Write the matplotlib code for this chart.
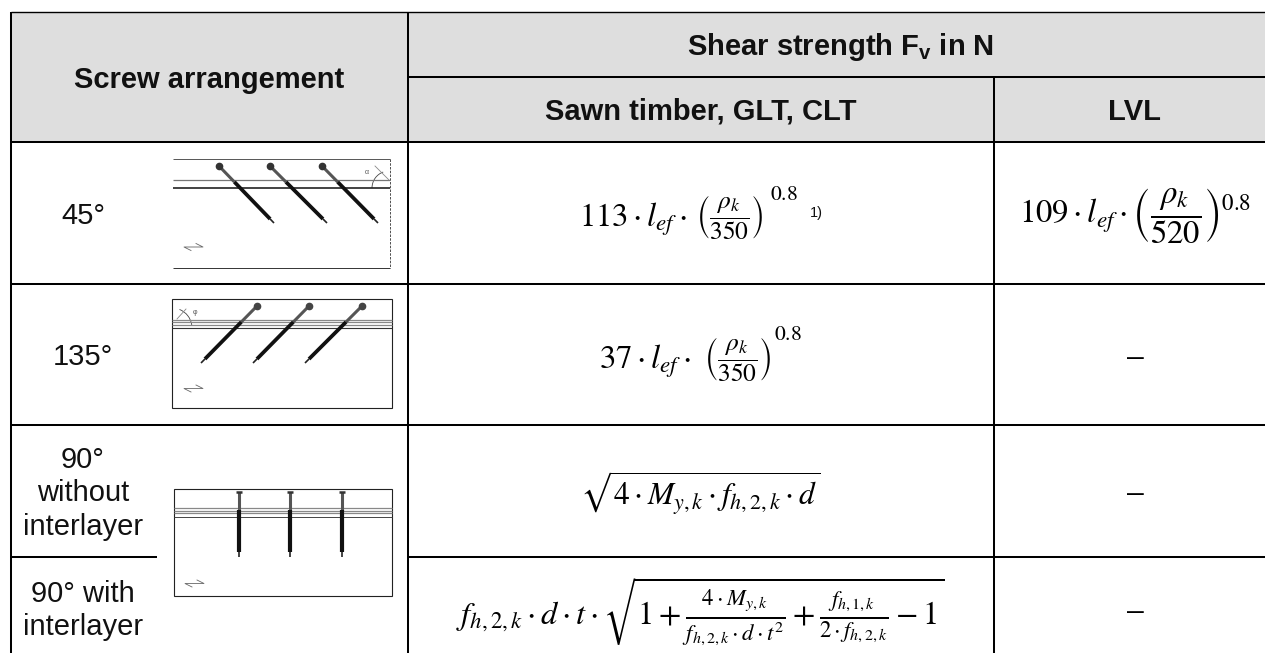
import matplotlib
matplotlib.use("Agg")
import matplotlib.pyplot as plt
from matplotlib.patches import Arc, Rectangle

plt.rcParams["font.family"] = ["Liberation Sans", "DejaVu Sans"]
plt.rcParams["mathtext.fontset"] = "custom"
plt.rcParams["mathtext.rm"] = "Liberation Sans:bold"
plt.rcParams["mathtext.bf"] = "Liberation Sans:bold"

# table text
header_left = "Screw arrangement"
header_top = r"Shear strength F$_{\mathbf{v}}$ in N"
header_sub = ["Sawn timber, GLT, CLT", "LVL"]
row_labels = ["45°", "135°", "90°", "without", "interlayer", "90° with", "interlayer"]
row_label_base = [224, 365, 468, 501, 535, 602, 635]

# 45 and 135 rows are set in three pieces, their fraction is smaller than in the LVL cell
prefixes = [r"$113\cdot l_{ef}\cdot$", r"$37\cdot l_{ef}\cdot$"]
prefix_xy = [(579, 227), (599, 368)]
fractions = [r"$\left(\dfrac{\rho_k}{350}\right)$", r"$\left(\dfrac{\rho_k}{350}\right)$"]
fraction_xy = [(696, 218), (704, 360)]
exponent = r"$0.8$"
exponent_xy = [(770, 194), (774, 335)]

formula_root = r"$\sqrt{4\cdot M_{y,k}\cdot f_{h,2,k}\cdot d}$"
formula_inter = (r"$f_{h,2,k}\cdot d\cdot t\cdot\sqrt{1+\frac{4\cdot M_{y,k}}{f_{h,2,k}\cdot d\cdot t^2}"
                 r"+\frac{f_{h,1,k}}{2\cdot f_{h,2,k}}-1}$")
formula_lvl = r"$109\cdot l_{ef}\cdot\left(\dfrac{\rho_k}{520}\right)^{0.8}$"
dash_y = [358, 494, 612]

# grid lines, in picture pixels
col_x = [11, 408, 994]
row_y = [142, 284, 425]

# screws in the three sketches: head x, head y, tip x, tip y
screws_45 = [(219, 166, 274, 223), (270, 166, 327, 223), (322, 166, 378, 223)]
screws_135 = [(257, 306, 201, 363), (309, 306, 253, 363), (362, 306, 305, 363)]
screws_90 = [(239, 492, 239, 557), (290, 492, 290, 557), (342, 492, 342, 557)]

fig = plt.figure(figsize=(12.65, 6.53), dpi=100)
ax = fig.add_axes([0, 0, 1, 1])
ax.set_xlim(0, 1265)
ax.set_ylim(653, 0)
ax.axis("off")


def hline(y, x0, x1, lw=1.45, color="black"):
    ax.plot([x0, x1], [y, y], color=color, lw=lw, solid_capstyle="butt")


def vline(x, y0, y1, lw=1.45, color="black", **kw):
    ax.plot([x, x], [y0, y1], color=color, lw=lw, solid_capstyle="butt", **kw)


def draw_screw(x0, y0, x1, y1, thread_lw=2.7):
    # plain shank up top, thicker thread below
    xm = x0 + 0.28 * (x1 - x0)
    ym = y0 + 0.28 * (y1 - y0)
    xt = x0 + 0.93 * (x1 - x0)
    yt = y0 + 0.93 * (y1 - y0)
    ax.plot([x0, xm], [y0, ym], color="#555555", lw=2.2, solid_capstyle="butt")
    ax.plot([xm, xt], [ym, yt], color="#111111", lw=thread_lw, solid_capstyle="butt")
    ax.plot([xt, x1], [yt, y1], color="#222222", lw=1.2, solid_capstyle="butt")


def draw_grain_mark(x, y):
    ax.plot([x + 7, x, x + 19, x + 12], [y + 3.5, y, y, y - 3.5], color="#666666", lw=0.6)


def math_text(x, y, s, size, **kw):
    ax.text(x, y, s, fontsize=size, color="black", math_fontfamily="stix", **kw)


ax.add_patch(Rectangle((11, 12), 1254, 130, facecolor="#dedede", edgecolor="none"))

hline(12, 11, 1265, lw=1.0)
hline(77, 408, 1265)
for y in row_y:
    hline(y, 11, 1265)
hline(557, 11, 157)
hline(557, 408, 1265)
vline(col_x[0], 12, 653)
vline(col_x[1], 12, 653)
vline(col_x[2], 77, 653)

bold = dict(ha="center", va="baseline", fontsize=21, fontweight="bold", color="#111111")
ax.text(209, 88, header_left, **bold)
ax.text(841, 55, header_top, math_fontfamily="custom", **bold)
ax.text(701, 120, header_sub[0], **bold)
ax.text(1135, 120, header_sub[1], **bold)

for label, y in zip(row_labels, row_label_base):
    ax.text(83, y, label, ha="center", va="baseline", fontsize=21, color="#111111")

for i in range(2):
    math_text(*prefix_xy[i], prefixes[i], 23.5, ha="left", va="baseline")
    math_text(*fraction_xy[i], fractions[i], 18.3, ha="left", va="center")
    math_text(*exponent_xy[i], exponent, 15.5, ha="left", va="center")
math_text(700, 493, formula_root, 22.7, ha="center", va="center")
math_text(700, 612, formula_inter, 23.4, ha="center", va="center")
math_text(1135, 216, formula_lvl, 23.6, ha="center", va="center")
ax.text(816, 213, "1)", ha="center", va="center", fontsize=10.5, color="#111111")
for y in dash_y:
    ax.text(1135, y, "–", ha="center", va="center", fontsize=24, color="black", family="STIXGeneral")

# sketch 45
hline(159, 173, 390, lw=0.7, color="#555555")
hline(268, 173, 390, lw=0.7, color="#333333")
vline(389.5, 159, 268, lw=0.6, color="#333333", linestyle=(0, (3, 1.5)))
hline(180, 173, 390, lw=0.9, color="#777777")
hline(188, 173, 390, lw=1.2, color="#222222")
for s in screws_45:
    draw_screw(*s)
    ax.plot(s[0], s[1], "o", color="#333333", ms=4.5)
ax.add_patch(Arc((389, 188), 34, 34, theta1=180, theta2=250, color="#444444", lw=0.6))
ax.plot([389, 375], [180, 166], color="#888888", lw=0.6)
ax.text(367, 172, "α", ha="center", va="center", fontsize=5, color="#555555")
draw_grain_mark(184, 247)

# sketch 135
ax.add_patch(Rectangle((172, 299), 220, 109, facecolor="none", edgecolor="#222222", lw=0.8))
for y in [319.5, 322, 324.5]:
    hline(y, 172, 392, lw=0.9, color="#888888")
hline(327.5, 172, 392, lw=0.8, color="#333333")
for s in screws_135:
    draw_screw(*s)
    ax.plot(s[0], s[1], "o", color="#444444", ms=4.5)
ax.add_patch(Arc((172, 328), 40, 40, theta1=292, theta2=352, color="#444444", lw=0.6))
ax.plot([177, 186], [319, 309], color="#888888", lw=0.6)
ax.text(195, 312, "φ", ha="center", va="center", fontsize=5, color="#555555")
draw_grain_mark(184, 388.5)

# sketch 90
ax.add_patch(Rectangle((173.5, 488.5), 218, 107.5, facecolor="white", edgecolor="#222222", lw=0.8))
for y in [508, 510.5, 513]:
    hline(y, 173.5, 391.5, lw=0.9, color="#888888")
hline(516.5, 173.5, 391.5, lw=0.7, color="#444444")
for s in screws_90:
    draw_screw(*s, thread_lw=3.0)
    ax.plot([s[0] - 3, s[0] + 3], [s[1], s[1]], color="#333333", lw=1.8, solid_capstyle="butt")
draw_grain_mark(185, 583.5)

fig.savefig("out.png", dpi=100)
